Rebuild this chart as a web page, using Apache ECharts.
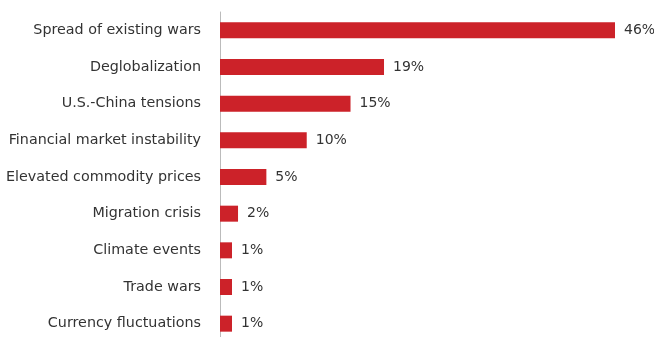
<!DOCTYPE html>
<html>
<head>
<meta charset="utf-8">
<script src="https://cdn.jsdelivr.net/npm/echarts@6/dist/echarts.min.js"></script>
<style>
html,body{margin:0;padding:0;background:#fff;overflow:hidden;height:337px;}
#chart{width:654px;height:346px;}
</style>
</head>
<body>
<div id="chart"></div>
<script>
const categories = [
  "Spread of existing wars",
  "Deglobalization",
  "U.S.-China tensions",
  "Financial market instability",
  "Elevated commodity prices",
  "Migration crisis",
  "Climate events",
  "Trade wars",
  "Currency fluctuations"
];
const values = [46, 19.1, 15.2, 10.1, 5.4, 2.1, 1.4, 1.4, 1.4];
const valueLabels = ["46%", "19%", "15%", "10%", "5%", "2%", "1%", "1%", "1%"];

const chart = echarts.init(document.getElementById('chart'));
chart.setOption({
  animation: false,
  grid: { left: 220, width: 395, top: 12, height: 330 },
  xAxis: {
    type: 'value', min: 0, max: 46, show: false
  },
  yAxis: {
    type: 'category',
    inverse: true,
    data: categories,
    axisLine: { show: true, lineStyle: { color: '#bbbbbb', width: 1 } },
    axisTick: { show: false },
    axisLabel: {
      color: '#333333', fontSize: 14.3, margin: 19,
      fontFamily: 'DejaVu Sans'
    }
  },
  series: [{
    type: 'bar',
    data: values,
    barWidth: 16,
    itemStyle: { color: '#cc2229' },
    label: {
      show: true, position: 'right', distance: 9,
      color: '#333333', fontSize: 14, fontFamily: 'DejaVu Sans',
      formatter: p => valueLabels[p.dataIndex]
    }
  }]
});
</script>
</body>
</html>
